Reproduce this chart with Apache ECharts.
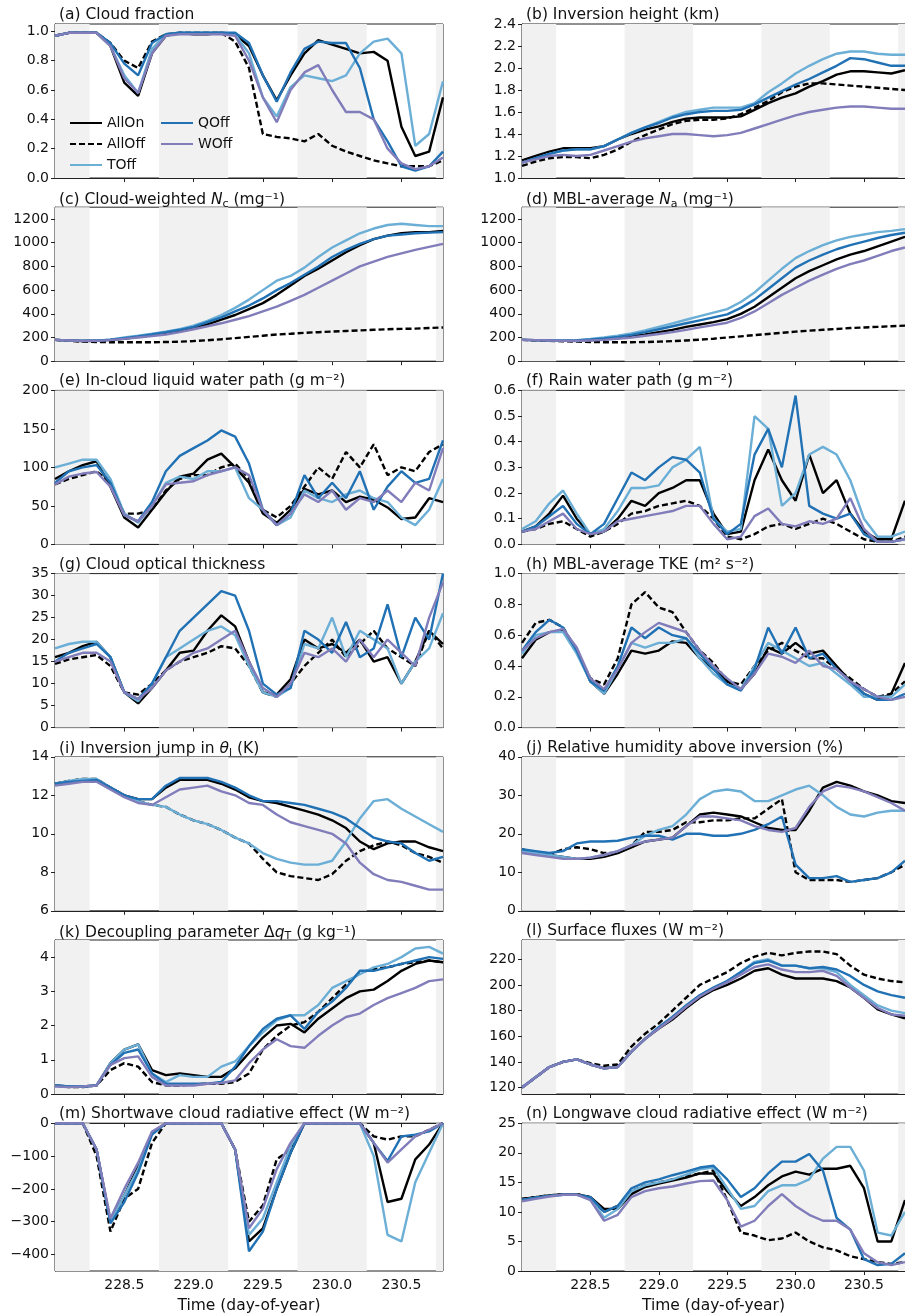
<!DOCTYPE html>
<html><head><meta charset="utf-8">
<script src="https://cdn.jsdelivr.net/npm/echarts@6/dist/echarts.min.js"></script>
<style>html,body{margin:0;padding:0;background:#fff}#c{width:905px;height:1315px}</style>
</head><body><div id="c"></div>
<script>
const T=[228.0,228.1,228.2,228.3,228.4,228.5,228.6,228.7,228.8,228.9,229.0,229.1,229.2,229.3,229.4,229.5,229.6,229.7,229.8,229.9,230.0,230.1,230.2,230.3,230.4,230.5,230.6,230.7,230.8];
const X_TICKS=[228.5,229.0,229.5,230.0,230.5];
const NIGHTS=[[228.0,228.25],[228.75,229.25],[229.75,230.25],[230.75,230.8]];
const NAMES=['AllOn','AllOff','TOff','QOff','WOff'];

const A_ON=[0.97,0.99,0.99,0.99,0.90,0.65,0.56,0.85,0.97,0.99,0.98,0.98,0.99,0.98,0.90,0.70,0.53,0.70,0.85,0.94,0.91,0.88,0.85,0.86,0.80,0.35,0.15,0.18,0.55];
const A_OFF=[0.97,0.99,0.99,0.99,0.92,0.80,0.75,0.93,0.98,0.99,0.99,0.99,0.99,0.93,0.75,0.30,0.28,0.27,0.25,0.30,0.22,0.18,0.15,0.12,0.10,0.08,0.08,0.08,0.12];
const A_T=[0.97,0.99,0.99,0.99,0.90,0.70,0.58,0.88,0.98,0.99,0.99,0.99,0.99,0.98,0.85,0.55,0.42,0.62,0.70,0.68,0.66,0.70,0.85,0.93,0.95,0.85,0.22,0.30,0.66];
const A_Q=[0.97,0.99,0.99,0.99,0.92,0.78,0.70,0.92,0.98,0.99,0.99,0.99,0.99,0.99,0.92,0.70,0.52,0.72,0.88,0.93,0.92,0.92,0.75,0.40,0.25,0.08,0.05,0.08,0.18];
const A_W=[0.97,0.99,0.99,0.99,0.90,0.68,0.58,0.85,0.97,0.98,0.98,0.98,0.98,0.97,0.80,0.55,0.38,0.60,0.72,0.77,0.60,0.45,0.45,0.40,0.20,0.10,0.06,0.08,0.14];

const B_ON=[1.16,1.20,1.24,1.27,1.27,1.27,1.29,1.35,1.40,1.44,1.47,1.51,1.54,1.55,1.55,1.55,1.56,1.62,1.68,1.73,1.77,1.83,1.88,1.94,1.97,1.97,1.96,1.95,1.98];
const B_OFF=[1.11,1.15,1.18,1.19,1.19,1.18,1.21,1.26,1.33,1.39,1.44,1.49,1.52,1.53,1.53,1.54,1.58,1.64,1.70,1.78,1.83,1.86,1.86,1.85,1.84,1.83,1.82,1.81,1.80];
const B_T=[1.14,1.18,1.22,1.25,1.26,1.26,1.29,1.35,1.41,1.46,1.51,1.56,1.60,1.62,1.64,1.64,1.64,1.68,1.78,1.86,1.95,2.02,2.08,2.13,2.15,2.15,2.13,2.12,2.12];
const B_Q=[1.14,1.18,1.22,1.25,1.26,1.26,1.29,1.35,1.41,1.46,1.50,1.55,1.58,1.60,1.61,1.61,1.62,1.67,1.73,1.79,1.85,1.90,1.96,2.02,2.09,2.08,2.05,2.02,2.02];
const B_W=[1.14,1.17,1.20,1.21,1.20,1.21,1.25,1.29,1.33,1.36,1.38,1.40,1.40,1.39,1.38,1.39,1.41,1.45,1.49,1.53,1.57,1.60,1.62,1.64,1.65,1.65,1.64,1.63,1.63];

const C_ON=[180,175,170,172,180,190,205,220,235,255,280,310,350,390,440,490,560,640,720,780,850,920,980,1030,1060,1080,1090,1090,1100];
const C_OFF=[180,172,165,162,160,160,160,160,162,165,170,177,185,195,205,215,225,232,240,245,250,255,260,265,270,273,275,280,285];
const C_T=[180,176,172,174,182,200,215,232,250,270,300,340,390,450,520,600,680,720,790,880,960,1020,1080,1120,1150,1160,1150,1140,1140];
const C_Q=[180,176,172,174,182,195,210,225,245,265,290,330,370,420,470,530,600,660,730,800,880,940,990,1030,1060,1070,1080,1085,1090];
const C_W=[180,175,170,172,178,188,200,212,225,245,270,295,320,350,380,420,460,510,560,620,680,740,800,840,880,910,940,965,990];

const D_ON=[180,178,175,172,172,178,185,195,210,225,245,265,290,310,330,355,400,460,540,620,700,760,810,860,900,930,970,1010,1050];
const D_OFF=[180,176,172,168,165,162,160,160,160,162,165,170,175,182,190,200,210,220,230,240,250,258,265,272,280,285,290,295,300];
const D_T=[180,178,176,175,178,188,200,215,235,260,290,320,350,380,410,440,500,580,680,780,870,930,980,1020,1050,1070,1090,1100,1115];
const D_Q=[180,178,176,174,175,183,193,205,222,245,270,295,320,345,370,395,450,520,610,700,790,850,900,945,980,1010,1040,1065,1085];
const D_W=[180,178,175,172,170,175,180,190,200,215,230,245,265,285,305,325,365,420,490,560,620,680,730,780,820,850,890,930,960];

const E_ON=[85,95,103,108,75,35,22,45,68,88,92,110,118,100,80,40,28,45,72,65,70,55,62,58,48,33,35,60,55];
const E_OFF=[78,85,90,95,80,40,40,45,70,85,90,90,100,105,85,45,35,50,75,100,85,120,100,130,90,100,95,120,130];
const E_T=[100,105,110,110,85,40,28,50,80,88,85,95,95,100,60,45,25,35,70,60,55,65,70,60,55,35,25,45,85];
const E_Q=[80,95,100,103,80,38,30,55,95,115,125,135,148,140,105,45,25,40,90,60,80,60,95,45,75,95,80,85,135];
const E_W=[78,88,92,94,75,38,30,50,78,80,82,90,95,100,90,45,25,40,65,55,70,45,60,55,70,55,80,70,125];

const F_ON=[0.05,0.07,0.12,0.19,0.10,0.04,0.05,0.10,0.17,0.15,0.20,0.22,0.25,0.25,0.12,0.04,0.05,0.25,0.37,0.25,0.17,0.35,0.20,0.25,0.12,0.05,0.02,0.02,0.17];
const F_OFF=[0.05,0.06,0.08,0.09,0.06,0.03,0.05,0.08,0.12,0.13,0.15,0.16,0.17,0.15,0.10,0.03,0.02,0.04,0.07,0.08,0.06,0.08,0.10,0.08,0.05,0.02,0.01,0.01,0.03];
const F_T=[0.06,0.09,0.16,0.21,0.12,0.04,0.06,0.13,0.22,0.22,0.23,0.30,0.33,0.38,0.10,0.05,0.06,0.50,0.45,0.15,0.20,0.35,0.38,0.35,0.25,0.10,0.03,0.03,0.05];
const F_Q=[0.05,0.07,0.11,0.15,0.08,0.04,0.08,0.18,0.28,0.25,0.30,0.34,0.33,0.28,0.10,0.04,0.08,0.35,0.45,0.30,0.58,0.15,0.12,0.10,0.12,0.04,0.01,0.01,0.02];
const F_W=[0.05,0.06,0.09,0.12,0.06,0.04,0.05,0.09,0.10,0.11,0.12,0.13,0.15,0.15,0.08,0.02,0.03,0.11,0.14,0.08,0.07,0.09,0.08,0.10,0.18,0.06,0.01,0.01,0.02];

const G_ON=[16,17,18.5,19.5,16,8,5.5,9,13,17,17.5,22,25.5,23,15,8,7.5,11,20,18,19,17,20,15,16,10,15,22,19];
const G_OFF=[14.5,15.5,16,16.5,14,8,7.5,10,13,15,16,17,18.5,18,14,8,7,10,14,17,20,16,19,22,18,16,14,22,18];
const G_T=[18,19,19.5,19.5,16,8,6,10,16,18,20,22,23,21,14,8,7,9,19,18,25,16,22,20,18,10,15,18,26];
const G_Q=[15,17,18,19,16,8,6.5,10,16,22,25,28,31,30,22,10,7.5,9,22,20,17,24,16,18,28,16,25,20,35];
const G_W=[15,16,17,17,15,8,6.5,9,13,15,17,18,20,22,15,9,7,10,17,16,18,15,20,16,20,17,14,25,33];

const H_ON=[0.45,0.57,0.62,0.63,0.50,0.30,0.22,0.35,0.50,0.48,0.50,0.56,0.55,0.45,0.38,0.30,0.25,0.35,0.52,0.48,0.55,0.48,0.50,0.40,0.30,0.22,0.18,0.22,0.42];
const H_OFF=[0.55,0.68,0.70,0.65,0.50,0.32,0.28,0.45,0.80,0.88,0.78,0.75,0.62,0.50,0.42,0.30,0.28,0.40,0.50,0.55,0.50,0.45,0.45,0.38,0.32,0.25,0.20,0.22,0.30];
const H_T=[0.48,0.60,0.62,0.62,0.48,0.30,0.22,0.38,0.55,0.52,0.55,0.55,0.58,0.45,0.35,0.28,0.25,0.40,0.55,0.50,0.45,0.40,0.42,0.35,0.28,0.20,0.20,0.20,0.28];
const H_Q=[0.50,0.62,0.70,0.65,0.50,0.30,0.24,0.40,0.65,0.58,0.65,0.60,0.58,0.48,0.38,0.28,0.24,0.38,0.65,0.48,0.65,0.45,0.48,0.38,0.30,0.22,0.18,0.18,0.22];
const H_W=[0.50,0.58,0.62,0.64,0.52,0.32,0.25,0.38,0.55,0.62,0.68,0.65,0.62,0.50,0.40,0.32,0.25,0.35,0.48,0.46,0.42,0.50,0.40,0.38,0.30,0.25,0.20,0.18,0.20];

const I_ON=[12.6,12.7,12.75,12.8,12.4,12.0,11.8,11.8,12.4,12.8,12.8,12.8,12.6,12.3,11.9,11.7,11.6,11.4,11.2,11.0,10.7,10.3,9.6,9.2,9.5,9.6,9.6,9.3,9.1];
const I_OFF=[12.6,12.75,12.85,12.85,12.4,12.0,11.7,11.5,11.4,11.0,10.7,10.5,10.2,9.8,9.5,8.7,8.0,7.8,7.7,7.6,7.9,8.6,9.1,9.4,9.6,9.4,9.0,8.8,8.5];
const I_T=[12.6,12.75,12.85,12.85,12.4,12.0,11.7,11.5,11.4,11.0,10.7,10.5,10.2,9.8,9.5,9.0,8.7,8.5,8.4,8.4,8.6,9.6,10.8,11.7,11.8,11.3,10.9,10.5,10.1];
const I_Q=[12.6,12.7,12.75,12.8,12.4,12.0,11.8,11.8,12.5,12.9,12.9,12.9,12.7,12.4,12.0,11.7,11.7,11.6,11.5,11.3,11.1,10.8,10.3,9.8,9.6,9.5,9.0,8.6,8.8];
const I_W=[12.5,12.6,12.7,12.7,12.3,11.9,11.6,11.5,11.9,12.3,12.4,12.5,12.2,12.0,11.6,11.5,11.0,10.6,10.4,10.2,10.0,9.5,8.5,7.9,7.6,7.5,7.3,7.1,7.1];

const J_ON=[15.5,15,14.5,14,13.5,13.5,14,15,16.5,18,18.5,19,22,25,25.5,25,24.5,23,21.5,21,21,26,32,33.5,32.5,31,30,28.5,28];
const J_OFF=[16,15,14.5,16,16.5,16,15,15,17,20.5,20.5,21,23,23,23.5,23.5,24,24,26.5,29,10,8,8,8,7.5,8,8.5,10,12];
const J_T=[15.5,15,14.5,14,13.5,13.8,14.5,15.5,17,19.5,21,22,25,29,31,31.5,31,28.5,28.5,30,31.5,32.5,30,27,25,24.5,25.5,26,26];
const J_Q=[16,15.5,15,15.5,17.5,18,18,18.2,19,19.5,19.5,18.5,20,20,19.5,19.5,20,21,22.5,24.5,12,8.5,8.5,9,7.5,8,8.5,10,13];
const J_W=[15,14.5,14,13.5,13.5,13.8,14.5,15.5,17,18,18.5,19,22,24.5,24.5,24,23.5,22,21,20.5,21.5,27,31,32.5,32,31,29.5,28,26];

const K_ON=[0.25,0.22,0.22,0.25,0.9,1.3,1.45,0.7,0.55,0.6,0.55,0.5,0.5,0.75,1.2,1.65,2.0,2.05,1.8,2.2,2.5,2.8,3.0,3.05,3.3,3.6,3.8,3.9,3.85];
const K_OFF=[0.25,0.2,0.2,0.25,0.7,0.9,0.8,0.35,0.25,0.25,0.28,0.3,0.3,0.35,0.6,1.3,1.7,2.0,2.1,2.4,2.8,3.2,3.55,3.65,3.7,3.8,3.85,3.9,3.85];
const K_T=[0.25,0.22,0.22,0.25,0.9,1.3,1.45,0.6,0.35,0.55,0.5,0.5,0.8,0.95,1.4,1.8,2.15,2.3,2.3,2.6,3.1,3.3,3.5,3.7,3.8,4.0,4.25,4.3,4.1];
const K_Q=[0.25,0.22,0.22,0.25,0.85,1.2,1.3,0.6,0.3,0.3,0.3,0.3,0.35,0.8,1.4,1.9,2.2,2.3,1.9,2.4,2.7,3.1,3.6,3.6,3.7,3.8,3.9,4.0,3.95];
const K_W=[0.22,0.2,0.22,0.25,0.85,1.05,1.1,0.5,0.25,0.25,0.25,0.3,0.32,0.4,0.9,1.3,1.6,1.4,1.35,1.7,2.0,2.25,2.35,2.6,2.8,2.95,3.1,3.3,3.35];

const L_ON=[120,128,136,140,142,138,135,136,148,158,166,173,182,190,196,200,205,211,213,208,205,205,205,203,198,190,181,177,174];
const L_OFF=[120,128,136,140,142,139,137,138,152,162,170,180,190,200,205,210,217,222,225,223,225,226,226,224,215,208,205,203,202];
const L_T=[120,128,136,140,142,138,135,136,148,158,167,175,184,192,198,203,210,218,220,215,215,213,213,210,200,192,184,180,178];
const L_Q=[120,128,136,140,142,138,135,136,148,158,167,175,184,192,198,203,210,217,219,215,215,213,214,212,207,200,195,192,190];
const L_W=[120,128,136,140,142,138,135,136,148,158,166,174,183,191,197,202,208,214,216,212,210,210,211,207,198,190,182,177,176];

const M_ON=[0,0,0,-80,-300,-220,-130,-30,0,0,0,0,0,-80,-360,-320,-200,-90,0,0,0,0,0,-60,-240,-230,-110,-65,0];
const M_OFF=[0,0,0,-100,-330,-230,-200,-60,0,0,0,0,0,-80,-300,-250,-110,-80,0,0,0,0,0,-40,-50,-40,-40,-20,0];
const M_T=[0,0,0,-80,-300,-220,-140,-30,0,0,0,0,0,-80,-340,-290,-180,-70,0,0,0,0,0,-100,-340,-360,-180,-90,0];
const M_Q=[0,0,0,-80,-305,-240,-150,-35,0,0,0,0,0,-80,-390,-330,-200,-90,0,0,0,0,0,-60,-115,-40,-35,-25,0];
const M_W=[0,0,0,-80,-290,-200,-120,-25,0,0,0,0,0,-80,-320,-260,-140,-60,0,0,0,0,0,-60,-120,-80,-40,-20,0];

const N_ON=[12.2,12.5,12.8,13.0,13.0,12.5,10.5,10.5,13.0,14.2,14.8,15.3,15.8,16.5,16.5,13.5,11.0,12.5,14.5,16.0,16.8,16.3,17.3,17.3,17.8,14.0,5.0,5.0,12.0];
const N_OFF=[12.2,12.5,12.8,13.0,13.0,12.5,10.0,11.0,13.5,14.5,15.0,15.5,16.0,16.5,17.0,12.0,6.5,6.0,5.2,5.5,6.5,5.0,4.0,3.5,2.5,2.0,1.5,1.2,1.5];
const N_T=[12.0,12.4,12.7,12.9,12.9,12.3,9.0,10.5,13.5,14.5,15.0,15.5,16.3,17.2,17.5,14.0,10.5,11.0,13.5,14.5,14.5,15.5,19.0,21.0,21.0,17.0,6.5,6.0,10.0];
const N_Q=[12.0,12.4,12.7,12.9,12.9,12.5,10.0,11.0,14.0,15.0,15.5,16.2,16.8,17.5,17.8,15.5,12.5,14.0,16.5,18.5,18.5,19.8,17.0,9.0,7.0,2.0,1.0,1.2,3.0];
const N_W=[11.8,12.2,12.6,12.9,12.9,12.0,8.5,9.5,12.5,13.5,14.0,14.3,14.8,15.2,15.3,12.0,7.5,8.5,11.0,13.0,11.0,9.5,8.5,8.5,7.0,3.0,1.5,1.0,1.5];

const TICKS_A=[0,0.2,0.4,0.6,0.8,1.0];
const TICKS_B=[1.0,1.2,1.4,1.6,1.8,2.0,2.2,2.4];
const TICKS_CD=[0,200,400,600,800,1000,1200];
const TICKS_E=[0,50,100,150,200];
const TICKS_F=[0,0.1,0.2,0.3,0.4,0.5,0.6];
const TICKS_G=[0,5,10,15,20,25,30,35];
const TICKS_H=[0,0.2,0.4,0.6,0.8,1.0];
const TICKS_I=[6,8,10,12,14];
const TICKS_J=[0,10,20,30,40];
const TICKS_K=[0,1,2,3,4];
const TICKS_L=[120,140,160,180,200,220];
const TICKS_M=[-400,-300,-200,-100,0];
const TICKS_N=[0,5,10,15,20,25];

const PANELS=[
 {t:'(a) Cloud fraction',d:[A_ON,A_OFF,A_T,A_Q,A_W],min:0,max:1.05,ticks:TICKS_A,dec:1},
 {t:'(b) Inversion height (km)',d:[B_ON,B_OFF,B_T,B_Q,B_W],min:1.0,max:2.4,ticks:TICKS_B,dec:1},
 {t:'(c) Cloud-weighted {i|N}{s|c} (mg⁻¹)',d:[C_ON,C_OFF,C_T,C_Q,C_W],min:0,max:1300,ticks:TICKS_CD,dec:0},
 {t:'(d) MBL-average {i|N}{s|a} (mg⁻¹)',d:[D_ON,D_OFF,D_T,D_Q,D_W],min:0,max:1300,ticks:TICKS_CD,dec:0},
 {t:'(e) In-cloud liquid water path (g m⁻²)',d:[E_ON,E_OFF,E_T,E_Q,E_W],min:0,max:200,ticks:TICKS_E,dec:0},
 {t:'(f) Rain water path (g m⁻²)',d:[F_ON,F_OFF,F_T,F_Q,F_W],min:0,max:0.6,ticks:TICKS_F,dec:1},
 {t:'(g) Cloud optical thickness',d:[G_ON,G_OFF,G_T,G_Q,G_W],min:0,max:35,ticks:TICKS_G,dec:0},
 {t:'(h) MBL-average TKE (m² s⁻²)',d:[H_ON,H_OFF,H_T,H_Q,H_W],min:0,max:1.0,ticks:TICKS_H,dec:1},
 {t:'(i) Inversion jump in {i|θ}{s|l} (K)',d:[I_ON,I_OFF,I_T,I_Q,I_W],min:6,max:14,ticks:TICKS_I,dec:0},
 {t:'(j) Relative humidity above inversion (%)',d:[J_ON,J_OFF,J_T,J_Q,J_W],min:0,max:40,ticks:TICKS_J,dec:0},
 {t:'(k) Decoupling parameter Δ{i|q}{s|T} (g kg⁻¹)',d:[K_ON,K_OFF,K_T,K_Q,K_W],min:0,max:4.5,ticks:TICKS_K,dec:0},
 {t:'(l) Surface fluxes (W m⁻²)',d:[L_ON,L_OFF,L_T,L_Q,L_W],min:115,max:235,ticks:TICKS_L,dec:0},
 {t:'(m) Shortwave cloud radiative effect (W m⁻²)',d:[M_ON,M_OFF,M_T,M_Q,M_W],min:-450,max:0,ticks:TICKS_M,dec:0},
 {t:'(n) Longwave cloud radiative effect (W m⁻²)',d:[N_ON,N_OFF,N_T,N_Q,N_W],min:0,max:25,ticks:TICKS_N,dec:0}
];

const COLORS=['#000000','#000000','#6baed6','#2171b5','#807dba'];
const FONT='DejaVu Sans';
const grids=[],xAxes=[],yAxes=[],series=[],titles=[];
PANELS.forEach((p,k)=>{
  const row=Math.floor(k/2),col=k%2;
  const left=col?522:55, top=24+row*183.2;
  const bottom=row===6;
  grids.push({left:left,top:top,width:388,height:154,show:true,borderColor:'#222',borderWidth:1,backgroundColor:'transparent'});
  titles.push({text:p.t,left:left-1,top:top-22,textStyle:{fontFamily:FONT,fontSize:15.5,fontWeight:'normal',color:'#111',
    rich:{i:{fontFamily:FONT,fontSize:15.5,fontStyle:'italic',color:'#111'},s:{fontFamily:FONT,fontSize:11,color:'#111',padding:[8,0,0,0]}}}});
  xAxes.push({type:'value',gridIndex:k,min:228,max:230.8,
    axisLine:{show:true,lineStyle:{color:'#222'}},splitLine:{show:false},
    axisTick:{show:true,length:4,lineStyle:{color:'#222'},customValues:X_TICKS},
    axisLabel:{show:bottom,customValues:X_TICKS,formatter:v=>v.toFixed(1),fontFamily:FONT,fontSize:14,color:'#111',margin:7},
    name:bottom?'Time (day-of-year)':'',nameLocation:'middle',nameGap:27,nameTextStyle:{fontFamily:FONT,fontSize:15.5,color:'#111'}});
  yAxes.push({type:'value',gridIndex:k,min:p.min,max:p.max,
    axisLine:{show:true,lineStyle:{color:'#222'}},splitLine:{show:false},
    axisTick:{show:true,length:4,lineStyle:{color:'#222'},customValues:p.ticks},
    axisLabel:{customValues:p.ticks,formatter:v=>v.toFixed(p.dec).replace('-','\u2212'),fontFamily:FONT,fontSize:14,color:'#111',margin:6}});
  series.push({type:'line',xAxisIndex:k,yAxisIndex:k,data:[],silent:true,z:1,
    markArea:{silent:true,itemStyle:{color:'#f1f1f1'},data:NIGHTS.map(n=>[{xAxis:n[0]},{xAxis:n[1]}])}});
  p.d.forEach((arr,j)=>{
    series.push({type:'line',name:NAMES[j],xAxisIndex:k,yAxisIndex:k,z:3+j,showSymbol:false,symbol:'none',animation:false,
      data:T.map((t,i)=>[t,arr[i]]),
      lineStyle:{color:COLORS[j],width:2.4,type:j===1?[6,3]:'solid'},itemStyle:{color:COLORS[j]}});
  });
});
const legText={fontFamily:FONT,fontSize:14,color:'#111'};
const legItem={color:'transparent',borderColor:'transparent',borderWidth:0,opacity:0};
const chart=echarts.init(document.getElementById('c'),null,{renderer:'canvas'});
chart.setOption({
  animation:false,backgroundColor:'#fff',
  title:titles,
  legend:[
    {id:'lg1',data:['AllOn','AllOff','TOff'],orient:'vertical',left:64,top:111,itemWidth:32,itemHeight:12,itemGap:7,textStyle:legText,itemStyle:legItem,selectedMode:false},
    {id:'lg2',data:['QOff','WOff'],orient:'vertical',left:155,top:111,itemWidth:32,itemHeight:12,itemGap:7,textStyle:legText,itemStyle:legItem,selectedMode:false}
  ],
  grid:grids,xAxis:xAxes,yAxis:yAxes,series:series
});
</script></body></html>
